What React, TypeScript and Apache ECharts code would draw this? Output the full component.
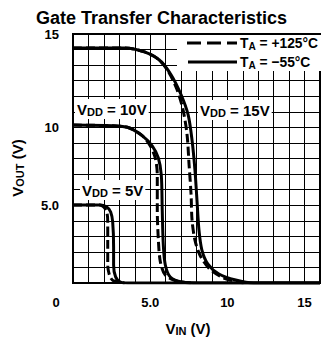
import React, { useEffect, useRef } from "react";
import * as echarts from "echarts";

// ---- data (V_IN, V_OUT) ----
const vdd15Cold: number[][] = [
  [0, 15.1], [3.34, 15.1], [4.63, 14.85], [5.59, 14.33], [6.36, 13.37], [7.01, 12.08], [7.46, 10.8],
  [7.71, 9.19], [7.9, 7.26], [8.03, 5.33], [8.16, 3.41], [8.35, 2.12], [8.74, 1.22], [9.45, 0.58],
  [10.54, 0.19], [11.7, 0], [16, 0],
];
const vdd15Hot: number[][] = [
  [0, 15.1], [3.34, 15.1], [4.63, 14.85], [5.59, 14.33], [6.23, 13.5], [6.75, 12.4], [7.13, 11.12],
  [7.39, 9.51], [7.52, 7.58], [7.65, 5.66], [7.71, 4.05], [7.9, 2.76], [8.22, 1.8], [8.8, 0.96],
  [9.77, 0.32], [11.05, 0],
];
const vdd10Cold: number[][] = [
  [0, 10.15], [2.83, 10.09], [3.66, 9.96], [4.5, 9.45], [5.14, 8.8], [5.53, 8.03], [5.72, 6.94],
  [5.78, 4.69], [5.85, 2.44], [5.98, 1.16], [6.3, 0.39], [7.07, 0.06], [8.16, 0], [16, 0],
];
const vdd10Hot: number[][] = [
  [0, 10.15], [2.83, 10.09], [3.66, 9.96], [4.5, 9.45], [5.01, 8.8], [5.33, 8.03], [5.46, 6.94],
  [5.46, 4.69], [5.53, 2.76], [5.66, 1.35], [5.98, 0.51], [6.68, 0.13], [7.84, 0],
];
const vdd5Cold: number[][] = [
  [0, 5.01], [1.74, 5.01], [2.19, 4.88], [2.44, 4.56], [2.57, 3.92], [2.63, 2.31], [2.63, 1.16],
  [2.76, 0.39], [3.08, 0.06], [3.79, 0], [16, 0],
];
const vdd5Hot: number[][] = [
  [0, 5.01], [1.74, 5.01], [1.99, 4.88], [2.19, 4.56], [2.25, 3.92], [2.25, 2.31], [2.25, 1.16],
  [2.38, 0.45], [2.63, 0.13], [3.34, 0],
];

const xTickValues = [0, 5, 10, 15];
const xTickLabels = ["0", "5.0", "10", "15"];
const yTickValues = [5, 10, 15];
const yTickLabels = ["5.0", "10", "15"];

const TITLE = "Gate Transfer Characteristics";
const HOT_LEGEND = "{m|T}{s|A}{m| = +125°C}";
const COLD_LEGEND = "{m|T}{s|A}{m| = −55°C}";

const FONT = "'Liberation Sans', Arial, Helvetica, sans-serif";
const MAIN = { fontFamily: FONT, fontWeight: "bold" as const, fontSize: 15, lineHeight: 16, color: "#000" };
const SUB = { fontFamily: FONT, fontWeight: "bold" as const, fontSize: 11, lineHeight: 8, verticalAlign: "bottom" as const, color: "#000" };
const TICK = { fontFamily: FONT, fontWeight: "bold" as const, fontSize: 13, color: "#000" };

export default function App() {
  const ref = useRef<HTMLDivElement>(null);
  useEffect(() => {
    if (!ref.current) return;
    const chart = echarts.init(ref.current, undefined, { renderer: "svg" });
    const lineSeries = (data: number[][], dashed: boolean) => ({
      type: "line",
      data,
      symbol: "none",
      smooth: 0.3,
      z: dashed ? 6 : 5,
      silent: true,
      lineStyle: { color: "#000", width: 3, type: dashed ? [9, 4] : "solid" },
      emphasis: { disabled: true },
    });
    const richText = (x: number, y: number, text: string, extra: any = {}) => ({
      type: "text",
      x,
      y,
      z: 12,
      ...extra,
      style: {
        text,
        rich: { m: MAIN, s: SUB },
        verticalAlign: "middle",
        align: "left",
        ...(extra.style || {}),
      },
    });
    chart.setOption({
      animation: false,
      title: {
        text: TITLE,
        left: "center",
        top: 4,
        textStyle: { fontFamily: FONT, fontWeight: "bold", fontSize: 18, color: "#000" },
      },
      grid: { left: 73, top: 34, width: 249, height: 249, show: true, borderColor: "#000", borderWidth: 2 },
      xAxis: {
        type: "value",
        min: 0,
        max: 16,
        interval: 1,
        axisLine: { show: true, lineStyle: { color: "#000", width: 2 } },
        axisTick: { show: false },
        splitLine: { show: true, lineStyle: { color: "#000", width: 1 } },
        axisLabel: {
          margin: 13,
          ...TICK,
          formatter: (v: number) => {
            const i = xTickValues.indexOf(v);
            if (i < 0) return "";
            return v === 0 ? `{z|${xTickLabels[i]}}` : xTickLabels[i];
          },
          rich: { z: { ...TICK, padding: [0, 34, 0, 0] } },
        },
      },
      yAxis: {
        type: "value",
        min: 0,
        max: 16,
        interval: 1,
        axisLine: { show: true, lineStyle: { color: "#000", width: 2 } },
        axisTick: { show: false },
        splitLine: { show: true, lineStyle: { color: "#000", width: 1 } },
        axisLabel: {
          margin: 14,
          ...TICK,
          formatter: (v: number) => {
            const i = yTickValues.indexOf(v);
            if (i < 0) return "";
            return v === 15 ? `{t|${yTickLabels[i]}}` : yTickLabels[i];
          },
          rich: { t: { ...TICK, padding: [0, 0, 30, 0] } },
        },
      },
      graphic: [
        // legend box
        { type: "rect", z: 10, shape: { x: 177, y: 35, width: 144, height: 36 }, style: { fill: "#fff" } },
        {
          type: "line",
          z: 11,
          shape: { x1: 187, y1: 43, x2: 237, y2: 43 },
          style: { stroke: "#000", lineWidth: 3, lineDash: [14, 6] },
        },
        {
          type: "line",
          z: 11,
          shape: { x1: 188, y1: 62, x2: 237, y2: 62 },
          style: { stroke: "#000", lineWidth: 3 },
        },
        richText(240, 43, HOT_LEGEND, { scaleX: 0.92 }),
        richText(240, 62, COLD_LEGEND, { scaleX: 0.92 }),
        // VDD labels
        richText(75, 109, "{m|V}{s|DD}{m| = 10V}", { style: { backgroundColor: "#fff", padding: [2, 2, 2, 2] } }),
        richText(198, 110, "{m|V}{s|DD}{m| = 15V}", { style: { backgroundColor: "#fff", padding: [2, 2, 2, 2] } }),
        richText(80, 190, "{m|V}{s|DD}{m| = 5V}", { style: { backgroundColor: "#fff", padding: [2, 2, 2, 2] } }),
        // axis names
        richText(188, 328, "{m|V}{s|IN}{m| (V)}", { style: { align: "center" } }),
        richText(17, 168, "{m|V}{s|OUT}{m| (V)}", { rotation: Math.PI / 2, style: { align: "center" } }),
      ],
      series: [
        lineSeries(vdd15Cold, false),
        lineSeries(vdd10Cold, false),
        lineSeries(vdd5Cold, false),
        lineSeries(vdd15Hot, true),
        lineSeries(vdd10Hot, true),
        lineSeries(vdd5Hot, true),
      ],
    });
    return () => chart.dispose();
  }, []);
  return (
    <div
      ref={ref}
      style={{ position: "fixed", left: 0, top: 0, width: 323, height: 342, background: "#fff" }}
    />
  );
}
